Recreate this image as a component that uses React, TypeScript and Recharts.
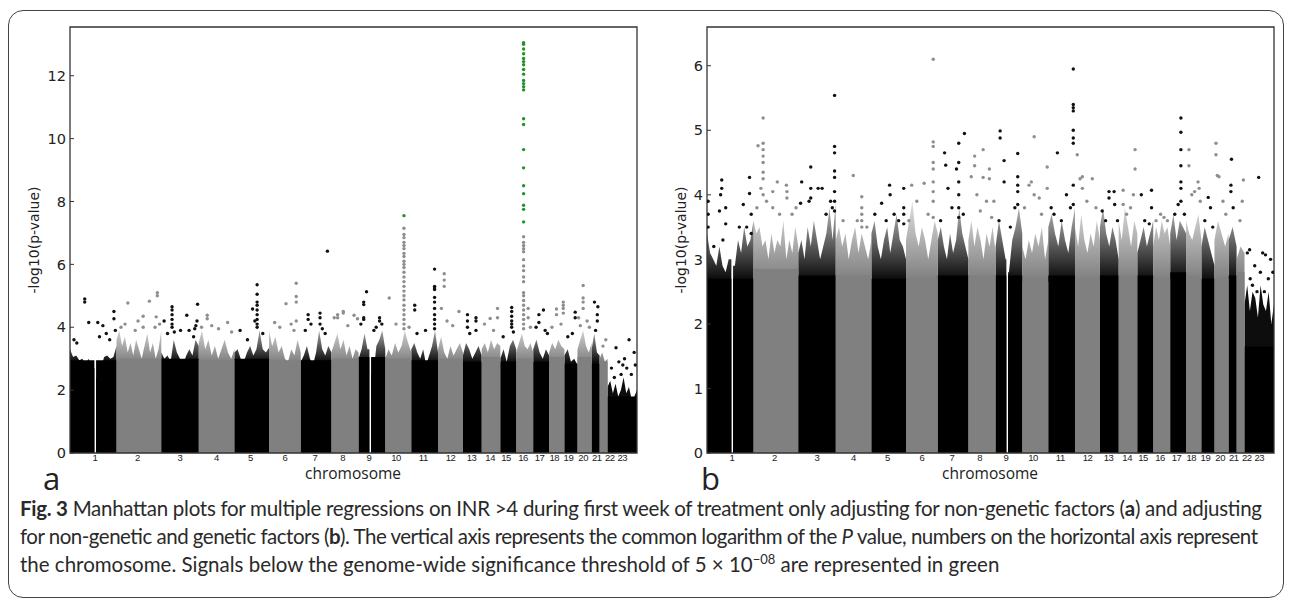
import React from 'react';
import { ComposedChart, Area, Scatter, XAxis, YAxis, ReferenceArea } from 'recharts';

// chromosome layout (genome position in 0..1000 units)
const chromLabels = ['1', '2', '3', '4', '5', '6', '7', '8', '9', '10', '11', '12', '13', '14', '15', '16', '17', '18', '19', '20', '21', '22', '23'];
const chromEdges = [0, 82, 161, 227, 290, 351, 407, 461, 509, 556, 602, 649, 693, 726, 759, 787, 817, 845, 872, 895, 920, 934, 948, 1000];
const labelPositions = [44, 119, 194, 258, 318, 379, 432, 481, 527, 575, 623, 671, 708, 741, 769, 799, 828, 854, 879, 905, 929, 952, 974];
const centromereGaps = [{ chrom: 0, from: 43, to: 46 }, { chrom: 8, from: 528, to: 531 }];
const threshold = 7.3; // -log10(5e-8)

// panel a: solid level and upper edge of the dense cloud per chromosome
const coreA = [2.95, 3.0, 3.0, 2.95, 3.0, 2.95, 2.95, 3.0, 3.05, 3.0, 2.95, 3.0, 2.9, 3.05, 2.9, 3.0, 2.9, 3.05, 2.85, 3.05, 2.85, 2.9, 1.8];
const hazeA = [
  [3.3, 3.05, 3.1, 2.95, 3.0, 2.8, 3.0, 2.7, 2.9, 2.4, 2.7, 3.05, 3.1, 3.0, 3.05, 3.4],
  [3.6, 3.9, 3.4, 3.7, 3.2, 3.5, 3.1, 3.6, 3.3, 3.0, 3.4, 3.8, 3.2, 3.5, 3.0, 3.3, 3.9],
  [3.2, 3.0, 3.1, 2.9, 3.6, 3.2, 3.0, 2.8, 3.1, 3.3, 3.1, 3.6, 3.4],
  [3.5, 3.9, 3.3, 3.6, 3.1, 3.4, 3.0, 3.3, 3.6, 3.2, 3.0, 3.3],
  [3.2, 3.3, 3.0, 2.9, 3.2, 3.4, 3.1, 3.3, 3.9, 3.3, 3.2, 3.35],
  [3.9, 3.4, 3.7, 3.2, 3.4, 3.0, 2.9, 3.3, 3.1, 3.6, 3.2],
  [2.9, 3.1, 3.4, 3.0, 2.8, 3.2, 3.9, 3.3, 3.1, 3.4, 3.2],
  [3.2, 3.5, 3.8, 3.3, 3.6, 3.1, 3.4, 3.0, 3.3, 3.2],
  [3.0, 3.3, 3.8, 3.3, 2.9, 2.5, 3.4, 3.6, 3.9, 3.3],
  [3.0, 3.3, 3.1, 3.5, 3.2, 3.4, 3.9, 3.5, 3.2],
  [3.3, 3.5, 3.2, 3.0, 3.3, 2.8, 3.1, 3.4, 3.9, 3.2],
  [3.3, 3.7, 3.2, 3.0, 3.4, 3.1, 3.3, 3.5, 3.2],
  [3.1, 3.5, 3.3, 3.0, 3.2, 3.4, 3.1],
  [3.3, 3.5, 3.2, 3.6, 3.3, 3.5, 3.4],
  [3.0, 3.3, 2.9, 3.4, 3.6, 3.3],
  [3.2, 3.5, 3.8, 3.4, 3.3, 3.5, 3.2],
  [3.3, 3.6, 3.2, 3.0, 3.3, 3.1],
  [3.2, 3.5, 3.3, 3.6, 3.4, 3.3],
  [3.1, 3.3, 2.9, 3.0, 2.8],
  [3.3, 3.6, 3.9, 3.4, 3.2, 3.5],
  [3.3, 3.8, 3.2, 3.1],
  [3.0, 3.2, 2.9, 3.0],
  [2.1, 2.3, 1.9, 2.2, 1.8, 2.0, 2.4, 1.9, 2.1, 1.7, 1.8, 2.0],
];
// panel a: isolated SNPs [position, -log10 p]
const pointsA = [
  [7, 3.6], [12, 3.5], [26, 4.9], [26, 4.8], [33, 4.15], [49, 4.15], [58, 4.05], [52, 3.7], [64, 3.8], [77.5, 4.5], [77.5, 4.27], [80, 3.9], [70, 3.6],
  [90, 4.0], [97, 4.1], [102, 4.77], [115, 3.9], [129, 4.35], [129, 4.0], [140, 4.83], [150, 4.0], [154, 5.1], [154, 5.0], [152, 4.33], [158, 4.1], [120, 4.2],
  [166, 4.2], [172, 3.8], [180, 4.65], [180, 4.55], [180, 4.4], [180, 4.25], [180, 4.1], [180, 4.0], [184, 3.85], [195, 3.9], [206, 4.38], [210, 3.9], [218, 3.7], [222, 4.05], [225, 4.73], [224, 4.2], [220, 3.95],
  [232, 4.0], [242, 4.38], [242, 4.27], [250, 4.05], [262, 3.95], [278, 4.15], [285, 3.85],
  [300, 3.9], [313, 3.6], [322, 4.58], [330, 5.35], [330, 5.05], [330, 4.8], [330, 4.7], [330, 4.55], [330, 4.4], [330, 4.25], [330, 4.1], [330, 4.0], [340, 3.8], [326, 4.2],
  [361, 4.15], [370, 4.0], [381, 4.75], [390, 4.1], [399, 5.4], [399, 4.98], [399, 4.8], [399, 4.2], [395, 3.9],
  [415, 3.9], [420, 4.4], [420, 4.25], [425, 4.1], [441, 4.45], [441, 4.3], [441, 4.1], [445, 3.95], [450, 3.8], [454, 6.42],
  [466, 4.3], [472, 4.4], [472, 4.3], [482, 4.5], [482, 4.45], [490, 4.05], [501, 4.38], [507, 4.27],
  [513, 4.1], [518, 4.8], [518, 4.72], [518, 4.3], [518, 4.25], [523, 5.13], [540, 4.0], [546, 4.3], [546, 4.2], [550, 4.1], [536, 3.9],
  [563, 4.93], [575, 4.1], [589, 7.55], [589, 7.15], [589, 6.95], [589, 6.85], [589, 6.7], [589, 6.6], [589, 6.5], [589, 6.35], [589, 6.25], [589, 6.1], [589, 6.0], [589, 5.9], [589, 5.75], [589, 5.6], [589, 5.45], [589, 5.3], [589, 5.15], [589, 5.0], [589, 4.87], [589, 4.7], [589, 4.55], [589, 4.4], [589, 4.25], [589, 4.1], [589, 3.95], [598, 4.0],
  [608, 4.7], [608, 4.55], [612, 3.8], [627, 3.9], [643, 5.85], [643, 5.3], [643, 5.25], [643, 5.2], [643, 4.95], [643, 4.8], [643, 4.6], [643, 4.4], [643, 4.25], [643, 4.1], [643, 3.95],
  [660, 5.7], [660, 5.5], [660, 5.3], [655, 4.6], [665, 4.2], [675, 4.05], [686, 4.5],
  [701, 4.4], [701, 4.2], [701, 4.0], [705, 3.8], [716, 4.3], [716, 4.2], [716, 3.9],
  [731, 4.1], [741, 4.28], [747, 3.9], [754, 4.6], [754, 4.3],
  [764, 3.7], [779, 4.63], [779, 4.5], [779, 4.35], [779, 4.2], [779, 4.1], [779, 4.0], [782, 3.85],
  [800, 13.05], [800, 13.0], [800, 12.85], [800, 12.7], [800, 12.55], [800, 12.45], [800, 12.35], [800, 12.2], [800, 12.05], [800, 11.85], [800, 11.75], [800, 11.65], [800, 11.55],
  [800, 10.63], [800, 10.45], [800, 9.65], [800, 9.07], [800, 8.5], [800, 8.25], [800, 7.88], [800, 7.75], [800, 7.35],
  [800, 6.88], [800, 6.7], [800, 6.6], [800, 6.5], [800, 6.4], [800, 6.15], [800, 5.95], [800, 5.8], [800, 5.6], [800, 5.45], [800, 5.1], [800, 5.0], [800, 4.85], [800, 4.7], [800, 4.55], [800, 4.4], [800, 4.25], [800, 4.1], [800, 3.95], [808, 4.6], [808, 4.3], [812, 4.0],
  [822, 4.0], [827, 4.4], [827, 4.15], [835, 4.55], [838, 3.9], [842, 3.8],
  [850, 4.0], [858, 4.58], [858, 4.4], [870, 4.8], [870, 4.7], [870, 4.6], [870, 4.45], [866, 4.1],
  [878, 3.7], [891, 4.48], [891, 4.3], [886, 3.8],
  [897, 4.3], [900, 4.05], [905, 5.33], [905, 4.93], [905, 4.8], [905, 4.6], [912, 4.2], [916, 4.0],
  [925, 4.8], [931, 4.65], [930, 4.4], [930, 4.2], [927, 3.9],
  [940, 3.4], [945, 3.6],
  [955, 2.7], [963, 3.35], [968, 2.9], [972, 2.5], [978, 3.0], [982, 2.7], [986, 3.6], [990, 2.5], [995, 3.2], [997, 2.8], [960, 2.4], [975, 2.8],
];

// panel b
const coreB = [2.7, 2.85, 2.75, 2.75, 2.7, 2.7, 2.75, 2.75, 2.75, 2.65, 2.75, 2.7, 2.75, 2.75, 2.75, 2.7, 2.8, 2.75, 2.7, 2.7, 2.75, 2.8, 1.65];
const hazeB = [
  [3.4, 3.1, 3.0, 2.9, 3.2, 2.9, 2.8, 3.0, 2.4, 2.9, 3.3, 3.1, 3.5, 3.2, 3.3, 3.6],
  [3.6, 3.4, 3.5, 3.2, 3.3, 3.0, 3.4, 3.1, 3.3, 3.2, 3.6, 3.0, 3.3, 3.1, 3.5, 3.2],
  [3.1, 3.3, 3.0, 3.5, 3.2, 3.6, 3.3, 3.0, 3.2, 3.4, 3.8, 3.3, 3.9],
  [3.3, 3.5, 3.2, 3.4, 3.0, 3.3, 3.5, 3.1, 3.4, 3.2, 3.0, 3.3],
  [3.4, 3.6, 3.2, 3.0, 3.3, 3.5, 3.1, 3.4, 3.7, 3.3, 3.2, 3.0],
  [3.3, 3.6, 3.9, 3.4, 3.2, 3.5, 3.3, 3.0, 3.3, 3.6, 3.4],
  [3.3, 3.5, 3.2, 3.0, 3.4, 3.1, 3.3, 3.8, 3.4, 3.2, 3.0],
  [3.3, 3.6, 3.2, 3.5, 3.3, 3.0, 3.4, 3.2, 3.5, 3.1],
  [3.2, 3.6, 3.3, 3.0, 2.8, 3.3, 3.5, 3.8, 3.4],
  [3.2, 3.0, 3.3, 3.1, 3.4, 3.2, 3.5, 3.0, 3.3],
  [3.5, 3.7, 3.4, 3.2, 3.6, 3.3, 3.1, 3.5, 3.8],
  [3.5, 3.2, 3.7, 3.3, 3.1, 3.4, 3.2, 3.6, 3.3],
  [3.5, 3.8, 3.4, 3.2, 3.5, 3.3, 3.0],
  [3.6, 3.3, 3.8, 3.5, 3.2, 3.6, 3.4],
  [3.1, 3.3, 3.5, 3.2, 3.4, 3.6],
  [3.2, 3.5, 3.3, 3.6, 3.4, 3.5, 3.2],
  [3.4, 3.7, 3.3, 3.6, 3.5, 3.4],
  [3.6, 3.4, 3.3, 3.5, 3.7, 3.3],
  [3.2, 3.5, 3.3, 3.1, 2.9],
  [3.3, 3.6, 3.4, 3.2, 3.4],
  [3.3, 3.5, 3.2],
  [3.0, 3.2, 3.1],
  [2.3, 2.6, 2.2, 2.5, 2.4, 2.1, 2.6, 2.3, 2.2, 2.5, 2.0, 2.3],
];
const pointsB = [
  [2, 3.9], [2, 3.7], [2, 3.5], [12, 3.2], [22, 3.75], [24, 4.0], [26, 4.23], [26, 4.1], [33, 3.8], [33, 3.55], [28, 3.3], [57, 3.5], [64, 3.85], [70, 3.5], [75, 4.27], [75, 4.02], [78, 3.7], [78, 3.4],
  [88, 3.8], [90, 4.76], [95, 4.1], [99, 5.19], [99, 4.8], [99, 4.7], [99, 4.6], [99, 4.5], [99, 4.35], [99, 4.25], [99, 4.0], [105, 3.9], [116, 4.05], [116, 3.8], [124, 4.2], [128, 3.7], [140, 4.15], [141, 4.05], [141, 3.95], [150, 3.7], [157, 3.8],
  [165, 3.87], [167, 4.2], [180, 3.9], [183, 4.43], [183, 4.1], [183, 3.95], [196, 4.1], [203, 4.1], [210, 3.7], [218, 3.9], [221, 3.8], [225, 5.54], [225, 4.75], [225, 4.65], [225, 4.37], [225, 4.27], [225, 4.05], [225, 3.9], [225, 3.75],
  [240, 3.6], [258, 4.3], [265, 3.6], [273, 3.97], [273, 3.8], [273, 3.7], [273, 3.6], [273, 3.5], [282, 3.5],
  [296, 3.7], [308, 3.87], [316, 3.6], [322, 4.15], [323, 4.0], [330, 3.7], [338, 3.6], [347, 4.1], [347, 3.8], [347, 3.7], [347, 3.55],
  [356, 3.6], [361, 4.15], [370, 3.9], [383, 4.18], [390, 3.7], [399, 6.1], [399, 4.82], [399, 4.75], [399, 4.5], [399, 4.4], [399, 4.2], [399, 4.05], [399, 3.9], [399, 3.65],
  [412, 3.6], [419, 4.65], [421, 4.46], [425, 4.1], [432, 3.8], [440, 4.4], [444, 4.8], [444, 4.5], [444, 4.2], [444, 4.0], [444, 3.8], [444, 3.65], [454, 4.95], [452, 3.7],
  [466, 4.28], [472, 4.6], [472, 4.45], [476, 4.0], [482, 3.75], [487, 4.7], [487, 4.27], [493, 3.9], [498, 4.4], [498, 4.25], [502, 3.65], [506, 3.9],
  [515, 3.6], [517, 4.99], [517, 4.88], [524, 4.53], [524, 4.2], [535, 3.5], [543, 3.8], [548, 4.64], [548, 4.28], [548, 4.15], [548, 4.05], [548, 3.85],
  [560, 3.8], [568, 4.15], [572, 4.2], [577, 4.9], [577, 4.0], [586, 3.95], [590, 3.7], [600, 4.43], [600, 4.1],
  [607, 3.8], [612, 3.7], [618, 4.65], [625, 3.6], [634, 4.0], [641, 3.8], [646, 5.95], [646, 5.4], [646, 5.35], [646, 5.3], [646, 5.0], [646, 4.88], [646, 4.8], [646, 4.15], [646, 3.85],
  [653, 4.62], [658, 4.25], [662, 4.28], [662, 4.1], [670, 3.9], [679.5, 4.25], [686, 3.8],
  [697, 3.75], [703, 3.6], [709, 4.05], [709, 3.95], [718, 4.05], [719, 3.85], [724, 3.6],
  [734, 4.07], [734, 3.85], [740, 3.7], [747, 3.8], [755, 4.7], [755, 4.4], [752, 4.0],
  [766, 4.0], [772, 3.6], [780, 3.55], [784, 4.07], [784, 3.8],
  [792, 3.6], [800, 3.7], [806, 3.65], [812, 3.6],
  [825, 3.7], [831, 3.85], [835.8, 5.19], [835.8, 4.97], [835.8, 4.7], [835.8, 4.45], [835.8, 4.2], [835.8, 4.1], [835.8, 3.9], [842, 3.7],
  [850, 4.7], [850, 4.45], [855, 4.0], [860, 4.05], [866, 4.2], [868, 4.1], [870, 3.9],
  [878, 3.6], [884, 3.96], [888, 3.8], [892, 3.5],
  [897.7, 4.8], [897.7, 4.62], [900, 4.3], [903, 4.28], [910, 3.9], [915, 3.7],
  [925, 4.55], [924, 4.15], [924, 4.05], [928, 3.8],
  [940, 3.6], [946, 4.23], [944, 3.9],
  [953, 3.1], [957, 3.15], [962, 2.6], [966, 2.9], [970, 2.5], [973, 4.27], [976, 2.8], [980, 3.1], [985, 3.07], [990, 2.7], [994, 3.0], [998, 2.8], [958, 2.7], [983, 2.5],
];

type Pt = { x: number; y: number };

function chromOf(x: number) {
  for (let i = 0; i < chromLabels.length; i++) if (x < chromEdges[i + 1]) return i;
  return chromLabels.length - 1;
}

// filled silhouette for every other chromosome (parity 0 = black, 1 = grey)
function silhouette(heights: number[][], parity: number): Pt[] {
  const out: Pt[] = [];
  heights.forEach((hs, i) => {
    if (i % 2 !== parity) return;
    const s = chromEdges[i], e = chromEdges[i + 1];
    let seg: Pt[] = hs.map((h, k) => ({ x: s + ((e - s) * k) / (hs.length - 1), y: h }));
    const gap = centromereGaps.find(g => g.chrom === i);
    if (gap) {
      const before = seg.filter(p => p.x < gap.from);
      const after = seg.filter(p => p.x > gap.to);
      seg = [...before, { x: gap.from, y: before[before.length - 1].y }, { x: gap.from, y: 0 }, { x: gap.to, y: 0 }, { x: gap.to, y: after[0].y }, ...after];
    }
    out.push({ x: s, y: 0 }, ...seg, { x: e, y: 0 });
  });
  return out;
}

function splitPoints(pts: number[][]) {
  const black: Pt[] = [], grey: Pt[] = [], green: Pt[] = [];
  pts.forEach(([x, y]) => {
    const p = { x, y };
    if (y > threshold) green.push(p);
    else if (chromOf(x) % 2 === 0) black.push(p);
    else grey.push(p);
  });
  return { black, grey, green };
}

const dot = (color: string) => (p: any) => <circle cx={p.cx} cy={p.cy} r={1.7} fill={color} />;

const YTick = (props: any) => {
  const { x, y, payload } = props;
  return (
    <g>
      <line x1={x + 4} x2={x + 8} y1={y} y2={y} stroke="#333" strokeWidth={1} />
      <text x={x} y={y} dy="0.36em" textAnchor="end" fontSize={14.5} fontFamily="DejaVu Sans" fill="#222">{payload.value}</text>
    </g>
  );
};

const XTick = (props: any) => {
  const { x, y, index } = props;
  return (
    <text x={x} y={y + 8} textAnchor="middle" fontSize={9.5} letterSpacing={-0.5} fontFamily="Liberation Sans, sans-serif" fill="#222">
      {chromLabels[index]}
    </text>
  );
};

const PLOT_BOTTOM = 453;

function Manhattan({ id, core, haze, points, yMax, yTicks, yAxisWidth, top, right, fadeFrom, fadeTo }: any) {
  const pts = splitPoints(points);
  const coreH = core.map((c: number) => [c, c]);
  const py = (v: number) => PLOT_BOTTOM - (v / yMax) * (PLOT_BOTTOM - top);
  const grad = (gid: string, color: string) => (
    <linearGradient id={gid} gradientUnits="userSpaceOnUse" x1={0} x2={0} y1={py(fadeTo)} y2={py(fadeFrom)}>
      <stop offset="0" stopColor={color} stopOpacity={0.3} />
      <stop offset="1" stopColor={color} stopOpacity={0.95} />
    </linearGradient>
  );
  return (
    <ComposedChart width={650} height={500} margin={{ top, right, left: 0, bottom: 0 }}>
      <defs>
        {grad(`${id}-k`, '#000')}
        {grad(`${id}-g`, '#7a7a7a')}
      </defs>
      <XAxis
        dataKey="x" type="number" domain={[0, 1000]} ticks={labelPositions} interval={0}
        axisLine={false} tickLine={false} tickSize={0} tickMargin={0} height={47}
        tick={<XTick />} allowDataOverflow
      />
      <YAxis
        dataKey="y" type="number" domain={[0, yMax]} ticks={yTicks} interval={0} width={yAxisWidth}
        axisLine={false} tickLine={false} tickSize={0} tickMargin={4} tick={<YTick />} allowDataOverflow
      />
      <Area data={silhouette(haze, 0)} dataKey="y" type="linear" stroke="none" fill={`url(#${id}-k)`} fillOpacity={1} isAnimationActive={false} />
      <Area data={silhouette(haze, 1)} dataKey="y" type="linear" stroke="none" fill={`url(#${id}-g)`} fillOpacity={1} isAnimationActive={false} />
      <Area data={silhouette(coreH, 0)} dataKey="y" type="linear" stroke="none" fill="#000" fillOpacity={1} isAnimationActive={false} />
      <Area data={silhouette(coreH, 1)} dataKey="y" type="linear" stroke="none" fill="#808080" fillOpacity={1} isAnimationActive={false} />
      <Scatter data={pts.grey} fill="#8e8e8e" shape={dot('#8e8e8e')} isAnimationActive={false} />
      <Scatter data={pts.black} fill="#111" shape={dot('#111')} isAnimationActive={false} />
      <Scatter data={pts.green} fill="#22922a" shape={dot('#22922a')} isAnimationActive={false} />
      <ReferenceArea x1={0} x2={1000} y1={0} y2={yMax} fill="none" stroke="#333" strokeWidth={1.3} />
    </ComposedChart>
  );
}

const txt: React.CSSProperties = { position: 'absolute', color: '#222', whiteSpace: 'nowrap' };
const panelLetter: React.CSSProperties = { ...txt, top: 469, fontFamily: 'Open Sans', fontSize: 31, lineHeight: '18px', height: 18 };

export default function App() {
  return (
    <div style={{ position: 'fixed', left: 0, top: 0, width: 1290, height: 605, background: '#fff', overflow: 'hidden' }}>
      <div style={{ position: 'absolute', left: 8, top: 10, width: 1276, height: 588, border: '1.5px solid #444', borderRadius: 15, boxSizing: 'border-box' }} />

      <div style={{ position: 'absolute', left: 0, top: 0 }}>
        <Manhattan id="pa" core={coreA} haze={hazeA} points={pointsA} yMax={13.55} yTicks={[0, 2, 4, 6, 8, 10, 12]} yAxisWidth={70} top={27} right={13} fadeFrom={2.9} fadeTo={4.0} />
      </div>
      <div style={{ position: 'absolute', left: 640, top: 0 }}>
        <Manhattan id="pb" core={coreB} haze={hazeB} points={pointsB} yMax={6.6} yTicks={[0, 1, 2, 3, 4, 5, 6]} yAxisWidth={67} top={27} right={16} fadeFrom={2.7} fadeTo={3.8} />
      </div>

      <div style={{ ...txt, left: 34, top: 240, fontFamily: 'DejaVu Sans', fontSize: 14, transform: 'translate(-50%, -50%) rotate(-90deg)' }}>-log10(p-value)</div>
      <div style={{ ...txt, left: 681, top: 240, fontFamily: 'DejaVu Sans', fontSize: 14, transform: 'translate(-50%, -50%) rotate(-90deg)' }}>-log10(p-value)</div>

      <div style={{ ...txt, left: 353, top: 473, fontFamily: 'Open Sans', fontSize: 15.5, transform: 'translate(-50%, -50%)' }}>chromosome</div>
      <div style={{ ...txt, left: 990, top: 473, fontFamily: 'Open Sans', fontSize: 15.5, transform: 'translate(-50%, -50%)' }}>chromosome</div>

      <div style={{ ...panelLetter, left: 43 }}>a</div>
      <div style={{ ...panelLetter, left: 701 }}>b</div>

      <svg width={1290} height={125} style={{ position: 'absolute', left: 0, top: 480 }} fontFamily="Lato, Open Sans, sans-serif" fontSize={20.5} fill="#2a2a2a">
        <text x={20} y={36} textLength={1242} lengthAdjust="spacing">
          <tspan fontWeight={700}>Fig. 3</tspan> Manhattan plots for multiple regressions on INR &gt;4 during first week of treatment only adjusting for non-genetic factors (<tspan fontWeight={700}>a</tspan>) and adjusting
        </text>
        <text x={20} y={64} textLength={1238} lengthAdjust="spacing">
          for non-genetic and genetic factors (<tspan fontWeight={700}>b</tspan>). The vertical axis represents the common logarithm of the <tspan fontStyle="italic">P</tspan> value, numbers on the horizontal axis represent
        </text>
        <text x={20} y={92}>
          the chromosome. Signals below the genome-wide significance threshold of 5 × 10<tspan fontSize={13} dy={-8}>−08</tspan><tspan dy={8}> are represented in green</tspan>
        </text>
      </svg>
    </div>
  );
}
